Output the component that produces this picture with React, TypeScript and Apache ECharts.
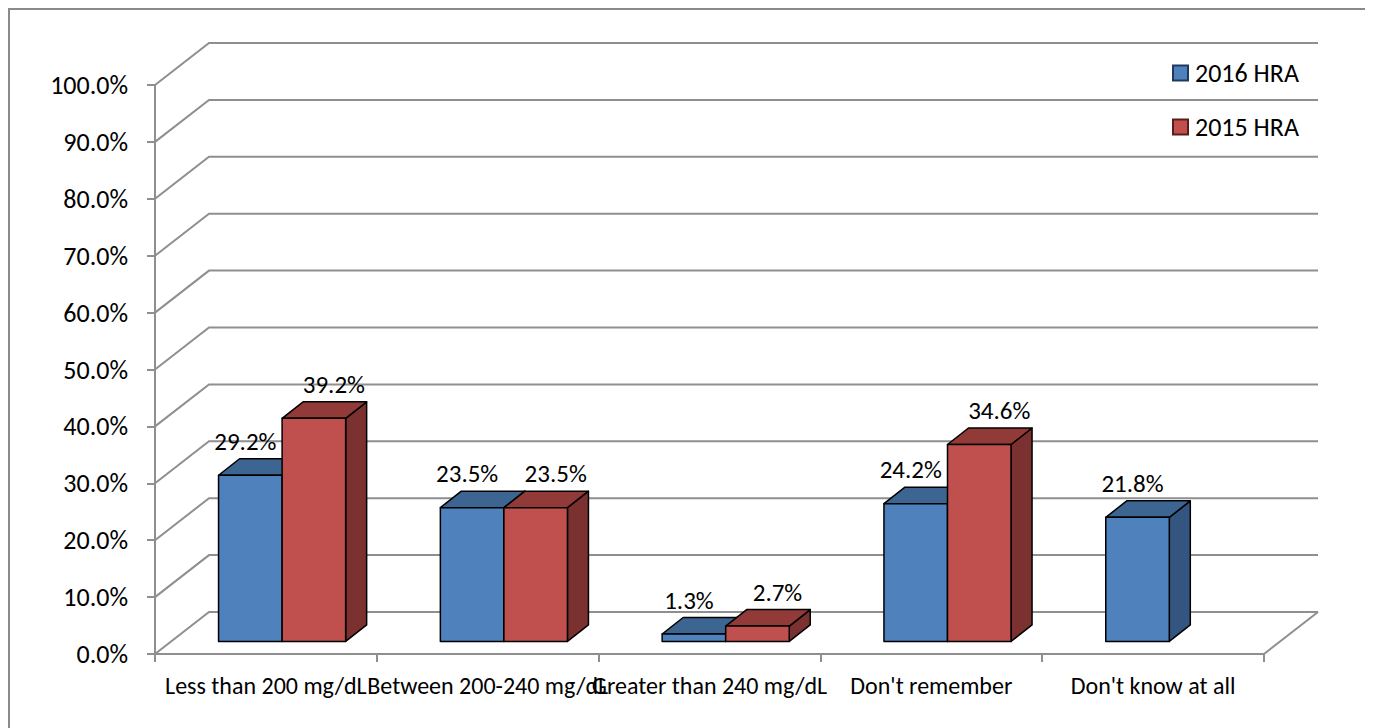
import React, { useEffect, useRef } from "react";
import * as echarts from "echarts";

// Cholesterol responses, by health risk assessment year
const categories = [
  "Less than 200 mg/dL",
  "Between 200-240 mg/dL",
  "Greater than 240 mg/dL",
  "Don't remember",
  "Don't know at all",
];
const hra2016: (number | null)[] = [29.2, 23.5, 1.3, 24.2, 21.8];
const hra2015: (number | null)[] = [39.2, 23.5, 2.7, 34.6, null];
const seriesNames = ["2016 HRA", "2015 HRA"];
const yTicks = [0, 10, 20, 30, 40, 50, 60, 70, 80, 90, 100];

const FONT = "Carlito, Lato, 'Open Sans', sans-serif";
const GRID_COLOR = "#8f8f8f";

// Oblique projection of the chart's depth axis
const DEPTH = { x: 54, y: -42 };
const BAR_DEPTH_START = 0.3;
const BAR_DEPTH = { x: 21, y: -16.5 };
const BAR_WIDTH_RATIO = 0.2865;

const palettes = [
  { front: "#4f81bd", top: "#3c6592", side: "#335580" },
  { front: "#c0504d", top: "#923a38", side: "#7b3130" },
];
const labelShift = [-5, 20];

function toPairs(values: (number | null)[]) {
  const out: number[][] = [];
  values.forEach((v, i) => {
    if (v !== null) out.push([i, v]);
  });
  return out;
}

function makeBarRenderer(seriesIndex: number) {
  return (params: any, api: any) => {
    const i = api.value(0);
    const v = api.value(1);
    const base = api.coord([i, 0]);
    const topPt = api.coord([i, v]);
    const band = api.size([1, 0])[0];
    const w = band * BAR_WIDTH_RATIO;
    const sx = DEPTH.x * BAR_DEPTH_START;
    const sy = DEPTH.y * BAR_DEPTH_START;
    const left = (seriesIndex === 0 ? base[0] - w : base[0]) + sx;
    const right = left + w;
    const bottom = base[1] + sy;
    const top = topPt[1] + sy;
    const dx = BAR_DEPTH.x;
    const dy = BAR_DEPTH.y;
    const pal = palettes[seriesIndex];
    const edge = { stroke: "#000", lineWidth: 1.5, lineJoin: "round" };
    return {
      type: "group",
      children: [
        {
          type: "polygon",
          shape: { points: [[right, top], [right + dx, top + dy], [right + dx, bottom + dy], [right, bottom]] },
          style: { fill: pal.side, ...edge },
        },
        {
          type: "polygon",
          shape: { points: [[left, top], [left + dx, top + dy], [right + dx, top + dy], [right, top]] },
          style: { fill: pal.top, ...edge },
        },
        {
          type: "polygon",
          shape: { points: [[left, top], [right, top], [right, bottom], [left, bottom]] },
          style: { fill: pal.front, ...edge },
        },
        {
          type: "text",
          z2: 100,
          x: (left + right) / 2 + labelShift[seriesIndex],
          y: top - 34,
          style: {
            text: v.toFixed(1) + "%",
            fill: "#000",
            font: `25px ${FONT}`,
            align: "center",
            verticalAlign: "middle",
          },
        },
      ],
    };
  };
}

function renderWalls(params: any, api: any) {
  const t = api.value(1);
  const y = api.coord([0, t])[1];
  const cs = params.coordSys;
  const x0 = cs.x;
  const x1 = cs.x + cs.width;
  const style = { stroke: GRID_COLOR, lineWidth: 2, fill: null };
  const children: any[] = [
    {
      type: "polyline",
      shape: { points: [[x0, y], [x0 + DEPTH.x, y + DEPTH.y], [x1 + DEPTH.x, y + DEPTH.y]] },
      style,
    },
  ];
  if (t === 0) {
    children.push({
      type: "line",
      shape: { x1: x1, y1: y, x2: x1 + DEPTH.x, y2: y + DEPTH.y },
      style,
    });
  }
  return { type: "group", children };
}

export default function App() {
  const ref = useRef<HTMLDivElement>(null);

  useEffect(() => {
    if (!ref.current) return;
    const chart = echarts.init(ref.current, null, { renderer: "svg" });
    chart.setOption({
      animation: false,
      backgroundColor: "#fff",
      graphic: [
        {
          type: "rect",
          shape: { x: 1, y: 1, width: 3000, height: 3000 },
          style: { fill: null, stroke: "#8a8a8a", lineWidth: 2 },
          silent: true,
        },
      ],
      legend: {
        data: seriesNames,
        orient: "vertical",
        left: 1159,
        top: 47,
        itemWidth: 15,
        itemHeight: 15,
        itemGap: 28,
        icon: "rect",
        textStyle: { fontFamily: FONT, fontSize: 26, color: "#000", lineHeight: 26, padding: [0, 0, 0, 2] },
      },
      grid: { left: 147, top: 77, width: 1109, height: 569 },
      xAxis: {
        type: "category",
        data: categories,
        boundaryGap: true,
        axisLine: { lineStyle: { color: GRID_COLOR, width: 2 } },
        axisTick: { show: true, length: 8, lineStyle: { color: GRID_COLOR, width: 2 } },
        axisLabel: { interval: 0, margin: 19, fontSize: 24, fontFamily: FONT, color: "#000" },
        splitLine: { show: false },
      },
      yAxis: {
        type: "value",
        min: 0,
        max: 100,
        interval: 10,
        axisLine: { show: true, lineStyle: { color: GRID_COLOR, width: 2 } },
        axisTick: { show: true, length: 8, lineStyle: { color: GRID_COLOR, width: 2 } },
        axisLabel: {
          margin: 27,
          fontSize: 26,
          fontFamily: FONT,
          color: "#000",
          formatter: (v: number) => v.toFixed(1) + "%",
        },
        splitLine: { show: false },
      },
      series: [
        {
          type: "custom",
          name: "walls",
          z: 1,
          silent: true,
          renderItem: renderWalls,
          data: yTicks.map((t) => [0, t]),
        },
        {
          type: "custom",
          name: seriesNames[0],
          z: 3,
          itemStyle: { color: palettes[0].front, borderColor: "#1f3a5c", borderWidth: 1 },
          renderItem: makeBarRenderer(0),
          data: toPairs(hra2016),
        },
        {
          type: "custom",
          name: seriesNames[1],
          z: 3,
          itemStyle: { color: palettes[1].front, borderColor: "#5a1d1c", borderWidth: 1 },
          renderItem: makeBarRenderer(1),
          data: toPairs(hra2015),
        },
      ],
    });
    return () => chart.dispose();
  }, []);

  return <div ref={ref} style={{ width: 1365, height: 720 }} />;
}
